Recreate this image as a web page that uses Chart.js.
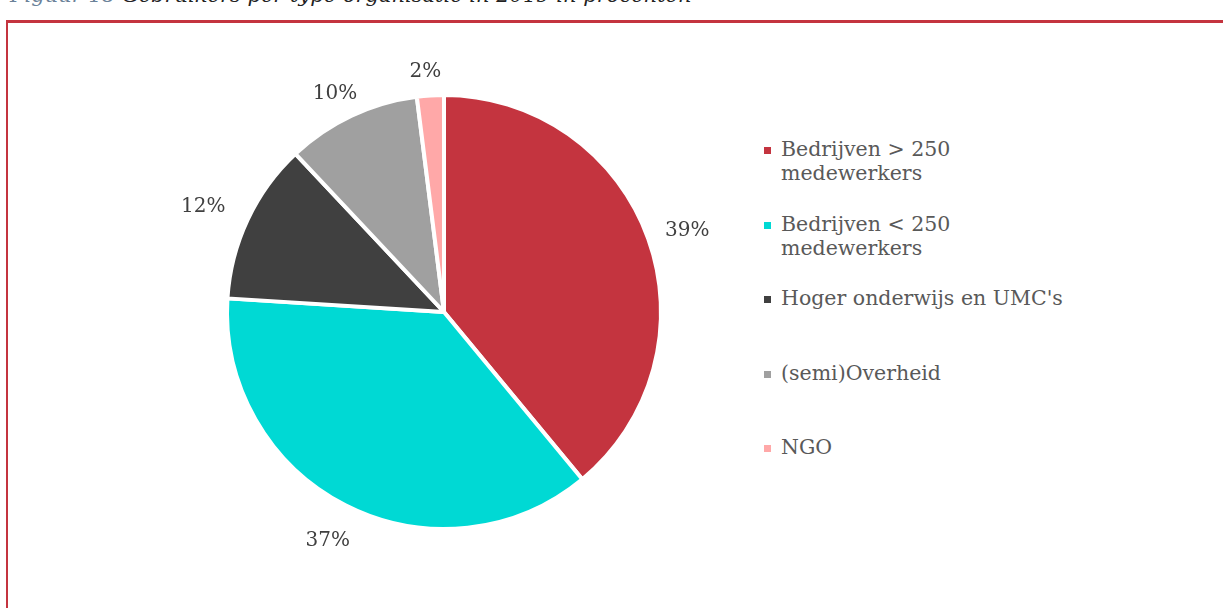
<!DOCTYPE html>
<html>
<head>
<meta charset="utf-8">
<script src="https://cdn.jsdelivr.net/npm/chart.js@4/dist/chart.umd.min.js"></script>
<style>
  html, body { margin: 0; padding: 0; width: 1223px; height: 608px; overflow: hidden; background: #fff; }
  #caption { position: absolute; left: 10px; top: -17px; font-family: "DejaVu Serif", serif; font-style: italic; font-size: 21px; color: #222; white-space: nowrap; }
  #caption .num { color: #6b8299; }
  #frame { position: absolute; left: 6px; top: 20px; width: 1230px; height: 600px; border-top: 3px solid #C4343F; border-left: 2px solid #C4343F; }
  #wrap { position: absolute; left: 144px; top: 12px; width: 600px; height: 600px; }
  #legend { position: absolute; left: 764px; top: 137px; font-family: "DejaVu Serif", serif; font-size: 20.5px; color: #595959; }
  .item { position: relative; height: 74.5px; padding-left: 17px; line-height: 24px; white-space: pre-line; }
  .sw { position: absolute; left: 0; top: 10px; width: 7px; height: 7px; }
</style>
</head>
<body>
<div id="caption"><span class="num">Figuur 18</span> Gebruikers per type organisatie in 2019 in procenten</div>
<div id="frame"></div>
<div id="wrap"><canvas id="c"></canvas></div>
<div id="legend"></div>
<script>
const categories = ["Bedrijven > 250\nmedewerkers", "Bedrijven < 250\nmedewerkers", "Hoger onderwijs en UMC's", "(semi)Overheid", "NGO"];
const values = [39, 37, 12, 10, 2];
const valueLabels = ["39%", "37%", "12%", "10%", "2%"];
const colors = ["#C4343F", "#00D9D4", "#404040", "#A0A0A0", "#FFA8A8"];

const outsideLabels = {
  id: 'outsideLabels',
  afterDatasetsDraw(chart) {
    const ctx = chart.ctx;
    const meta = chart.getDatasetMeta(0);
    ctx.save();
    ctx.font = '20px "DejaVu Serif", serif';
    ctx.fillStyle = '#404040';
    ctx.textAlign = 'center';
    ctx.textBaseline = 'middle';
    meta.data.forEach((arc, i) => {
      const mid = (arc.startAngle + arc.endAngle) / 2;
      const ux = Math.cos(mid), uy = Math.sin(mid);
      const hw = ctx.measureText(valueLabels[i]).width / 2 + 1;
      const hh = 11;
      const edge = Math.min(hw / Math.max(Math.abs(ux), 1e-6), hh / Math.max(Math.abs(uy), 1e-6));
      const r = arc.outerRadius + 20 + edge;
      ctx.fillText(valueLabels[i], arc.x + ux * r - 3, arc.y + uy * r + 7);
    });
    ctx.restore();
  }
};

new Chart(document.getElementById('c'), {
  type: 'pie',
  data: {
    labels: categories,
    datasets: [{ data: values, backgroundColor: colors, borderColor: '#ffffff', borderWidth: 4 }]
  },
  options: {
    responsive: true,
    maintainAspectRatio: false,
    animation: false,
    layout: { padding: 81 },
    plugins: { legend: { display: false }, tooltip: { enabled: false } }
  },
  plugins: [outsideLabels]
});

const legend = document.getElementById('legend');
categories.forEach((c, i) => {
  const d = document.createElement('div');
  d.className = 'item';
  const s = document.createElement('span');
  s.className = 'sw';
  s.style.background = colors[i];
  d.appendChild(s);
  d.appendChild(document.createTextNode(c));
  legend.appendChild(d);
});
</script>
</body>
</html>
